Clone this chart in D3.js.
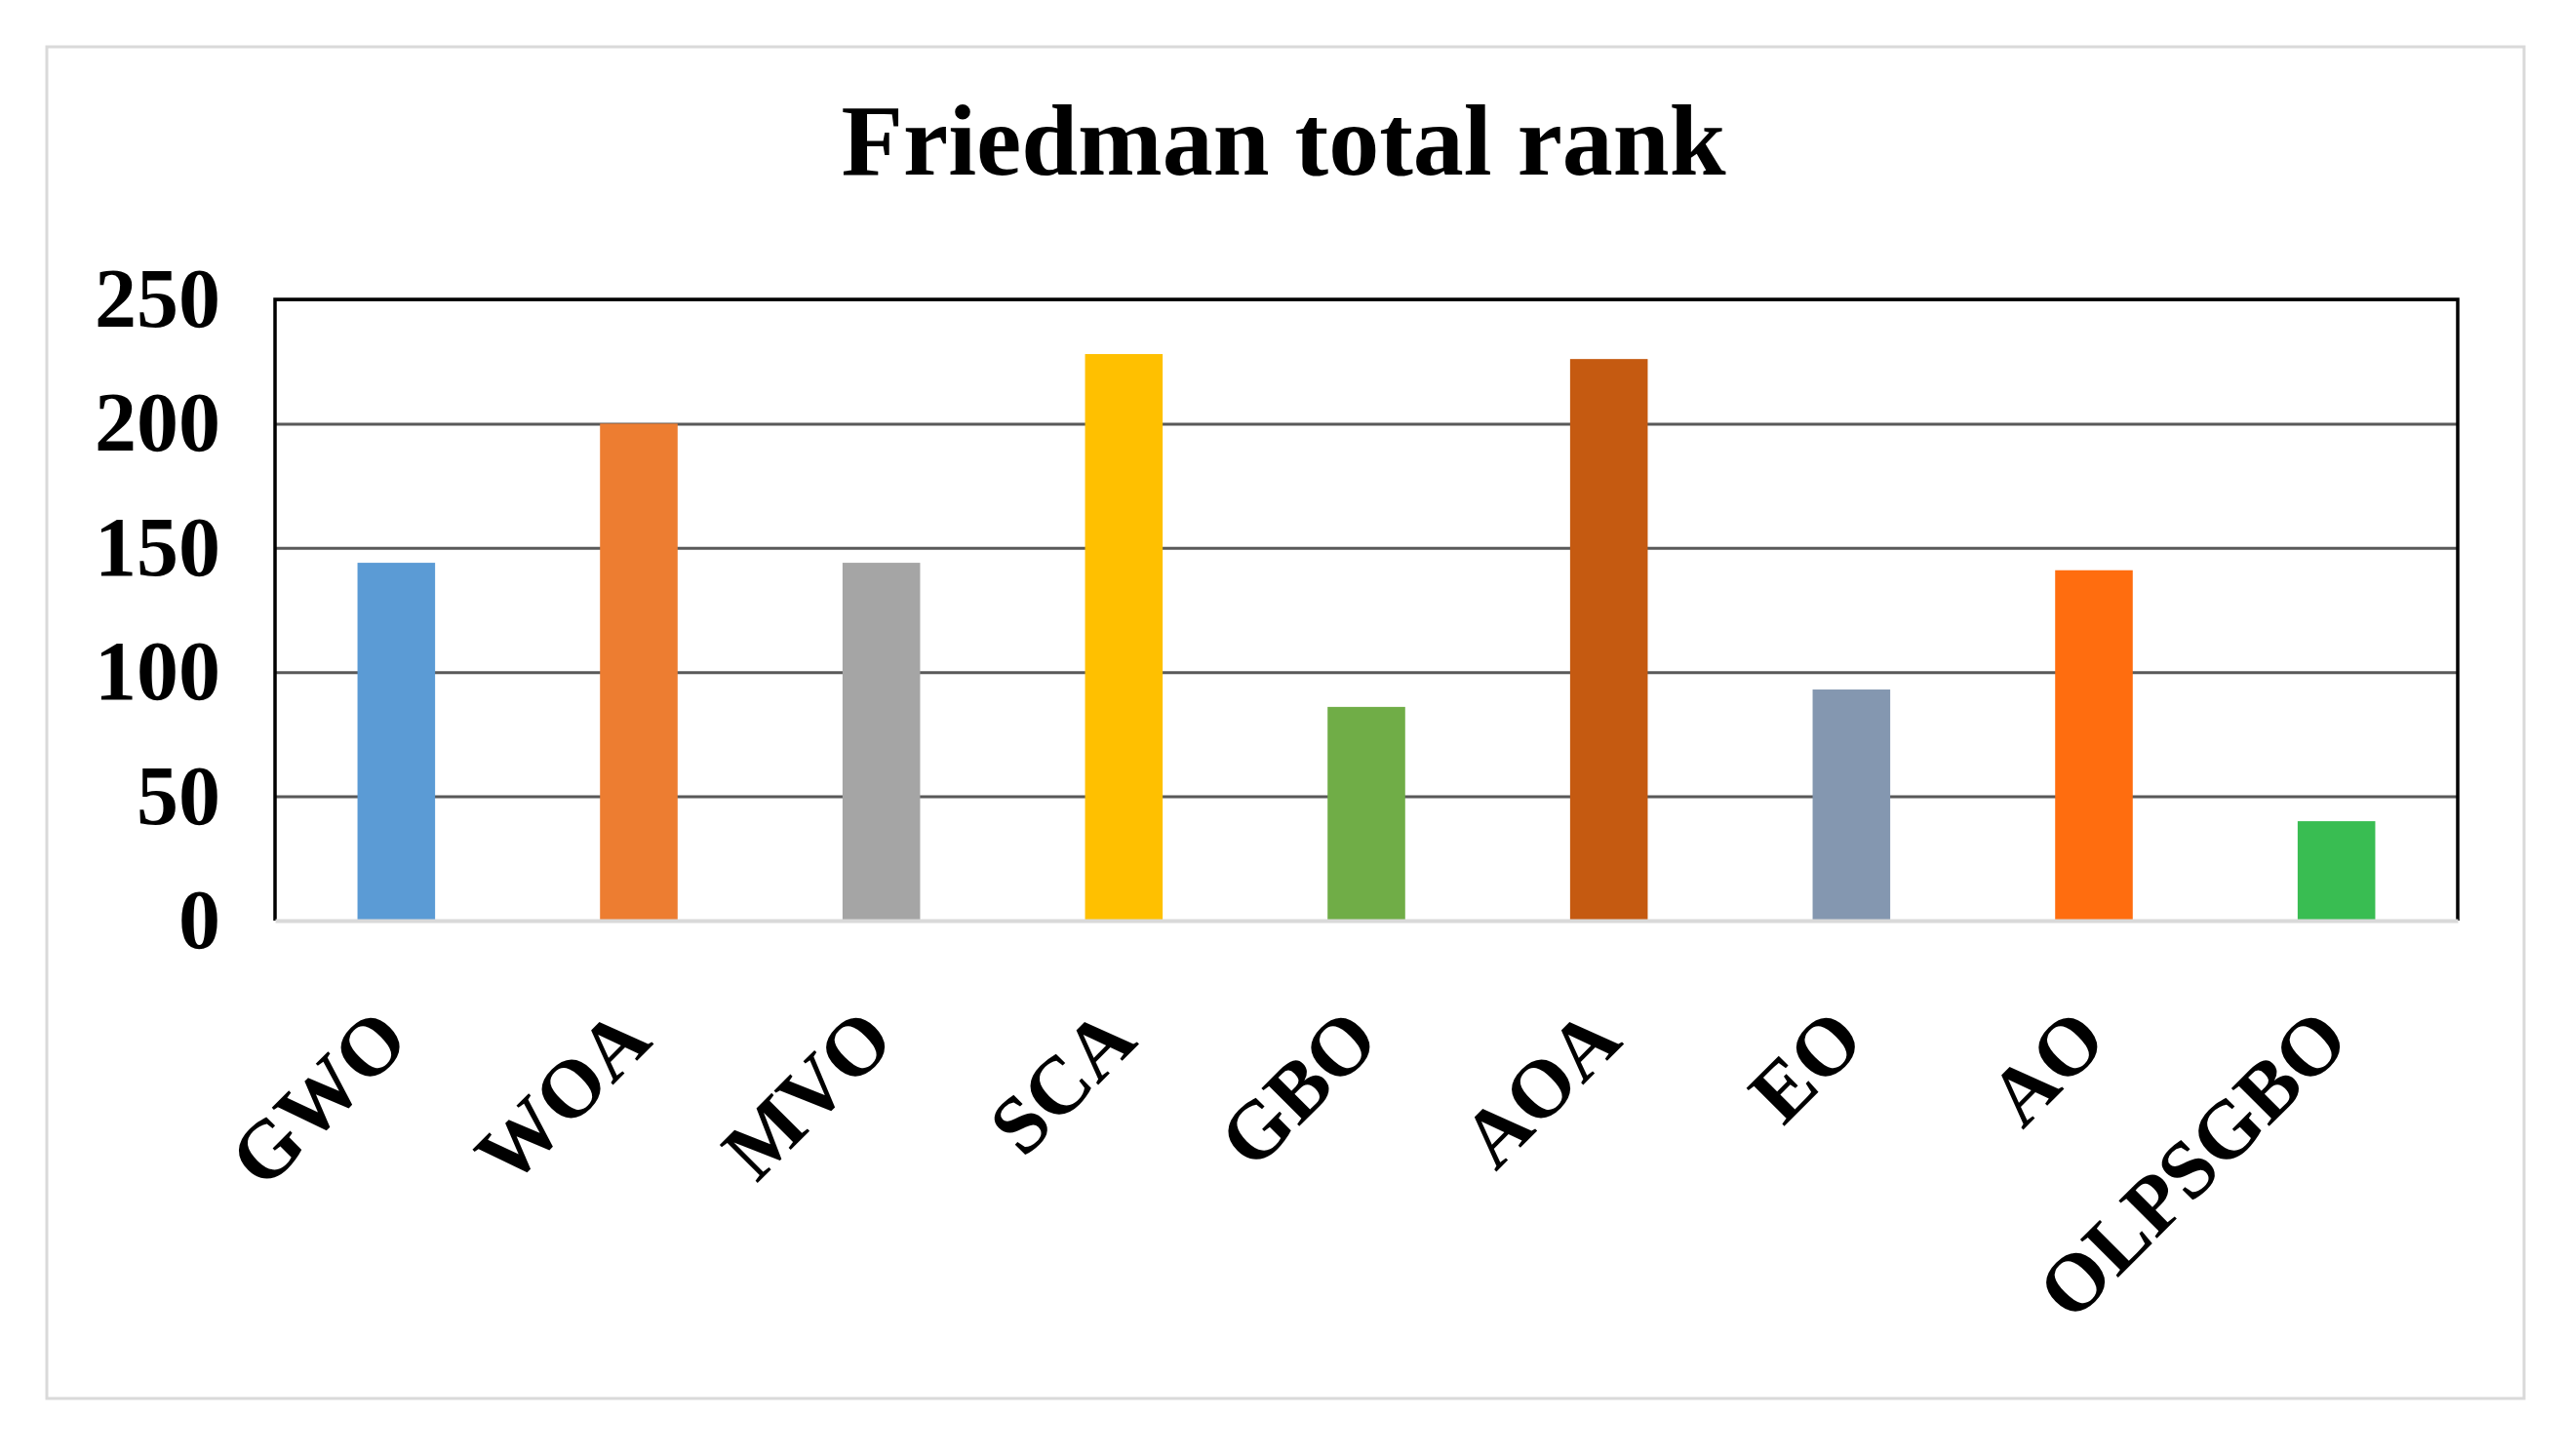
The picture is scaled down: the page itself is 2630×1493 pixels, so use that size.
<!DOCTYPE html>
<html>
<head>
<meta charset="utf-8">
<script src="https://cdn.jsdelivr.net/npm/d3@7"></script>
<style>
  body { margin: 0; background: #fff; }
  text { font-family: "Liberation Serif", "Times New Roman", serif; font-weight: bold; fill: #000; }
</style>
</head>
<body>
<div id="chart"></div>
<script>
// data
const categories = ['GWO', 'WOA', 'MVO', 'SCA', 'GBO', 'AOA', 'EO', 'AO', 'OLPSGBO']
const ranks = [144, 200, 144, 228, 86, 226, 93, 141, 40]
const barColors = ['#5b9bd5', '#ed7d31', '#a5a5a5', '#ffc000', '#70ad47', '#c55a11', '#8497b0', '#ff6d0f', '#39bd52']
const yTicks = [0, 50, 100, 150, 200, 250]
const title = 'Friedman total rank'

let width = 2630
let height = 1493
let plotLeft = 282, plotRight = 2520, plotTop = 307, plotBottom = 944

let svg = d3.select('#chart')
    .append('svg')
    .attr('width', width)
    .attr('height', height)

// outer frame
svg.append('rect')
    .attr('x', 48).attr('y', 48)
    .attr('width', 2540).attr('height', 1386)
    .attr('fill', '#fff')
    .attr('stroke', '#d9d9d9')
    .attr('stroke-width', 3)

svg.append('text')
    .attr('x', 1316)
    .attr('y', 179)
    .attr('text-anchor', 'middle')
    .style('font-size', '104px')
    .text(title)

let x = d3.scaleBand()
    .domain(categories)
    .range([plotLeft, plotRight])
    .paddingInner(0.68)
    .paddingOuter(0.34)

let y = d3.scaleLinear()
    .domain([0, 250])
    .range([plotBottom, plotTop])

// gridlines
let grid = svg.append('g')
    .attr('transform', `translate(${plotLeft},0)`)
    .call(d3.axisLeft(y).tickValues(yTicks.slice(1)).tickSize(-(plotRight - plotLeft)).tickFormat(''))
grid.select('.domain').remove()
grid.selectAll('line')
    .attr('stroke', '#595959')
    .attr('stroke-width', 3)

// bars
svg.selectAll('rect.bar')
    .data(ranks)
    .enter()
    .append('rect')
    .attr('class', 'bar')
    .attr('x', (d, i) => x(categories[i]))
    .attr('y', d => y(d))
    .attr('width', x.bandwidth())
    .attr('height', d => y(0) - y(d))
    .attr('fill', (d, i) => barColors[i])

// plot border: black top / left / right
svg.append('path')
    .attr('d', `M${plotLeft},${plotBottom}V${plotTop}H${plotRight}V${plotBottom}`)
    .attr('fill', 'none')
    .attr('stroke', '#000')
    .attr('stroke-width', 3.5)

// y axis labels
let yAxis = svg.append('g')
    .attr('transform', `translate(${plotLeft},0)`)
    .call(d3.axisLeft(y).tickValues(yTicks).tickSize(0).tickPadding(56))
yAxis.select('.domain').remove()
yAxis.selectAll('text')
    .style('font-size', '86px')
    .style('font-family', '"Liberation Serif", "Times New Roman", serif')

// x axis
let xAxis = svg.append('g')
    .attr('transform', `translate(0,${plotBottom})`)
    .call(d3.axisBottom(x).tickSize(0).tickSizeOuter(0))
xAxis.select('.domain')
    .attr('stroke', '#d9d9d9')
    .attr('stroke-width', 4)
xAxis.selectAll('text')
    .attr('y', 0)
    .attr('dy', 0)
    .attr('text-anchor', 'end')
    .attr('transform', 'translate(16,126) rotate(-45)')
    .style('font-size', '84px')
    .style('font-family', '"Liberation Serif", "Times New Roman", serif')
</script>
</body>
</html>
